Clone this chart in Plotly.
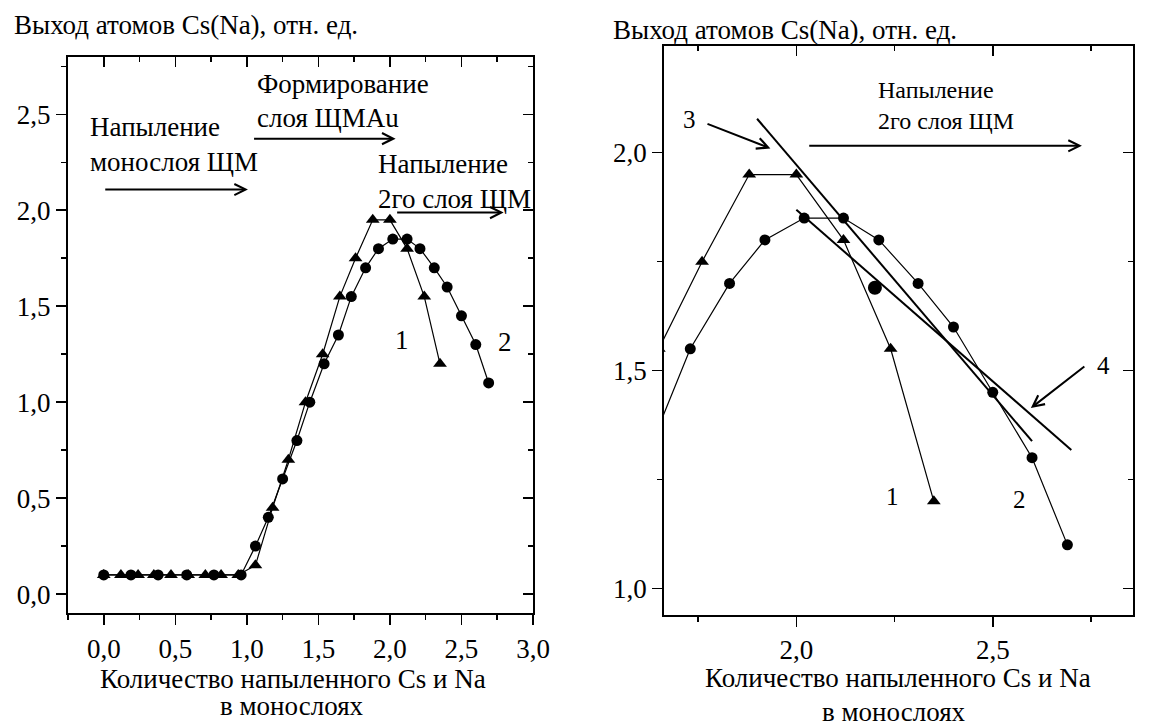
import plotly.graph_objects as go

# ---- data ----
x_tri = [0.0, 0.12, 0.24, 0.35, 0.47, 0.59, 0.71, 0.82, 0.94, 1.06, 1.18, 1.29, 1.41,
         1.53, 1.65, 1.76, 1.88, 2.0, 2.12, 2.24, 2.35]
y_tri = [0.1, 0.1, 0.1, 0.1, 0.1, 0.1, 0.1, 0.1, 0.1, 0.15, 0.45, 0.70, 1.0,
         1.25, 1.55, 1.75, 1.95, 1.95, 1.80, 1.55, 1.20]

x_cir = [0.0, 0.19, 0.38, 0.58, 0.77, 0.96, 1.06, 1.15, 1.25, 1.35, 1.44, 1.54, 1.64,
         1.73, 1.83, 1.92, 2.02, 2.12, 2.21, 2.31, 2.40, 2.50, 2.60, 2.69]
y_cir = [0.1, 0.1, 0.1, 0.1, 0.1, 0.1, 0.25, 0.40, 0.60, 0.80, 1.0, 1.20, 1.35,
         1.55, 1.70, 1.80, 1.85, 1.85, 1.80, 1.70, 1.60, 1.45, 1.30, 1.10]

line3_x = [1.90, 2.60]
line3_y = [2.078, 1.338]
line4_x = [2.00, 2.70]
line4_y = [1.869, 1.318]
dot_x = [2.20]
dot_y = [1.69]

FONT = "Liberation Serif"
W, H = 1150, 726


def px(x):
    return x / W


def py(y):
    return 1 - y / H


fig = go.Figure()

mk_line = dict(color="black", width=1.2)
# left panel
fig.add_trace(go.Scatter(x=x_cir, y=y_cir, mode="lines+markers", line=mk_line,
                         marker=dict(symbol="circle", size=11, color="black"),
                         xaxis="x", yaxis="y", showlegend=False, hoverinfo="skip"))
fig.add_trace(go.Scatter(x=x_tri, y=y_tri, mode="lines+markers", line=mk_line,
                         marker=dict(symbol="triangle-up", size=12, color="black"),
                         xaxis="x", yaxis="y", showlegend=False, hoverinfo="skip"))
# right panel
fig.add_trace(go.Scatter(x=x_cir, y=y_cir, mode="lines+markers", line=mk_line,
                         marker=dict(symbol="circle", size=11, color="black"),
                         xaxis="x2", yaxis="y2", showlegend=False, hoverinfo="skip"))
fig.add_trace(go.Scatter(x=x_tri, y=y_tri, mode="lines+markers", line=mk_line,
                         marker=dict(symbol="triangle-up", size=12, color="black"),
                         xaxis="x2", yaxis="y2", showlegend=False, hoverinfo="skip"))
fig.add_trace(go.Scatter(x=line3_x, y=line3_y, mode="lines", line=dict(color="black", width=2),
                         xaxis="x2", yaxis="y2", showlegend=False, hoverinfo="skip"))
fig.add_trace(go.Scatter(x=line4_x, y=line4_y, mode="lines", line=dict(color="black", width=2),
                         xaxis="x2", yaxis="y2", showlegend=False, hoverinfo="skip"))
fig.add_trace(go.Scatter(x=dot_x, y=dot_y, mode="markers",
                         marker=dict(symbol="circle", size=14, color="black"),
                         xaxis="x2", yaxis="y2", showlegend=False, hoverinfo="skip"))
# dummy traces to activate mirror (inward tick) axes
for xa, ya in [("x3", "y"), ("x", "y3"), ("x4", "y2"), ("x2", "y4")]:
    fig.add_trace(go.Scatter(x=[None], y=[None], xaxis=xa, yaxis=ya,
                             showlegend=False, hoverinfo="skip"))

tickfont = dict(family=FONT, size=27, color="black")
base = dict(showline=True, linecolor="black", linewidth=2, showgrid=False, zeroline=False,
            ticks="outside", ticklen=10, tickwidth=1.5, tickcolor="black",
            tickfont=tickfont, tickformat=".1f", mirror=True, fixedrange=True,
            minor=dict(dtick=0.25, ticklen=5, tickwidth=1.5, tickcolor="black",
                       ticks="outside"))
inner = dict(showline=False, showgrid=False, zeroline=False, ticks="inside", ticklen=10,
             tickwidth=1.5, tickcolor="black", showticklabels=False, fixedrange=True,
             minor=dict(dtick=0.25, ticklen=5, tickwidth=1.5, tickcolor="black",
                        ticks="inside"))

L_dom_x = [px(69), px(541)]
L_dom_y = [py(613.3), py(56.7)]
R_dom_x = [px(674), 1.0]
R_dom_y = [py(615), py(46)]
L_rx = [-0.25, 3.0]
L_ry = [-0.1, 2.8]
R_rx = [1.6632, 2.857]
R_ry = [0.939, 2.245]

fig.update_layout(
    width=W, height=H,
    margin=dict(l=0, r=0, t=0, b=0),
    paper_bgcolor="white", plot_bgcolor="white",
    separators=", ",
    font=dict(family=FONT, color="black"),
    xaxis=dict(base, domain=L_dom_x, range=L_rx, tick0=0, dtick=0.5, anchor="y"),
    yaxis=dict(base, domain=L_dom_y, range=L_ry, tick0=0, dtick=0.5, anchor="x"),
    xaxis2=dict(base, domain=R_dom_x, range=R_rx, tick0=0, dtick=0.5, anchor="y2"),
    yaxis2=dict(base, domain=R_dom_y, range=R_ry, tick0=0, dtick=0.5, anchor="x2"),
    xaxis3=dict(inner, overlaying="x", side="top", anchor="y", range=L_rx, tick0=0, dtick=0.5),
    yaxis3=dict(inner, overlaying="y", side="right", anchor="x", range=L_ry, tick0=0, dtick=0.5),
    xaxis4=dict(inner, overlaying="x2", side="top", anchor="y2", range=R_rx, tick0=0, dtick=0.5),
    yaxis4=dict(inner, overlaying="y2", side="right", anchor="x2", range=R_ry, tick0=0, dtick=0.5),
)

ann = []


def text(x, y, s, xref, yref, size=27, xanchor="left"):
    ann.append(dict(x=x, y=y, xref=xref, yref=yref, text=s, showarrow=False,
                    xanchor=xanchor, yanchor="middle",
                    font=dict(family=FONT, size=size, color="black")))


def arrow(x0, y0, x1, y1, xref, yref):
    ann.append(dict(x=x1, y=y1, ax=x0, ay=y0, xref=xref, yref=yref, axref=xref, ayref=yref,
                    text="", showarrow=True, arrowhead=5, arrowsize=1.1, arrowwidth=2,
                    arrowcolor="black", standoff=0, startstandoff=0))


# axis titles (paper coords)
text(px(12), py(25), "Выход атомов Cs(Na), отн. ед.", "paper", "paper")
text(px(620), py(30), "Выход атомов Cs(Na), отн. ед.", "paper", "paper")
text(px(297), py(679), "Количество напыленного Cs и Na", "paper", "paper", xanchor="center")
text(px(296), py(706), "в монослоях", "paper", "paper", xanchor="center")
text(px(911), py(678), "Количество напыленного Cs и Na", "paper", "paper", xanchor="center")
text(px(907), py(712), "в монослоях", "paper", "paper", xanchor="center")

# left panel annotations
text(-0.108, 2.434, "Напыление", "x", "y")
text(-0.108, 2.252, "монослоя ЩМ", "x", "y")
arrow(0.0, 2.108, 1.008, 2.108, "x", "y")
text(1.059, 2.66, "Формирование", "x", "y")
text(1.059, 2.478, "слоя ЩМAu", "x", "y")
arrow(1.04, 2.373, 2.04, 2.373, "x", "y")
text(1.903, 2.243, "Напыление", "x", "y")
text(1.903, 2.061, "2го слоя ЩМ", "x", "y")
arrow(2.04, 1.988, 2.795, 1.988, "x", "y")
text(2.084, 1.323, "1", "x", "y", xanchor="center")
text(2.806, 1.3125, "2", "x", "y", xanchor="center")

# right panel annotations
text(1.728, 2.077, "3", "x2", "y2", size=25, xanchor="center")
arrow(1.770, 2.0675, 1.934, 2.010, "x2", "y2")
text(2.202, 2.144, "Напыление", "x2", "y2", size=24)
text(2.202, 2.072, "2го слоя ЩМ", "x2", "y2", size=24)
arrow(2.029, 2.016, 2.727, 2.016, "x2", "y2")
text(2.781, 1.512, "4", "x2", "y2", size=25, xanchor="center")
arrow(2.737, 1.512, 2.597, 1.414, "x2", "y2")
text(2.244, 1.21, "1", "x2", "y2", size=25, xanchor="center")
text(2.567, 1.203, "2", "x2", "y2", size=25, xanchor="center")

fig.update_layout(annotations=ann)
fig.write_html(
    "out.html",
    config={"displayModeBar": False, "staticPlot": True},
    post_script="document.body.style.margin='0';document.body.style.padding='0';"
                "document.body.style.overflow='hidden';",
)
